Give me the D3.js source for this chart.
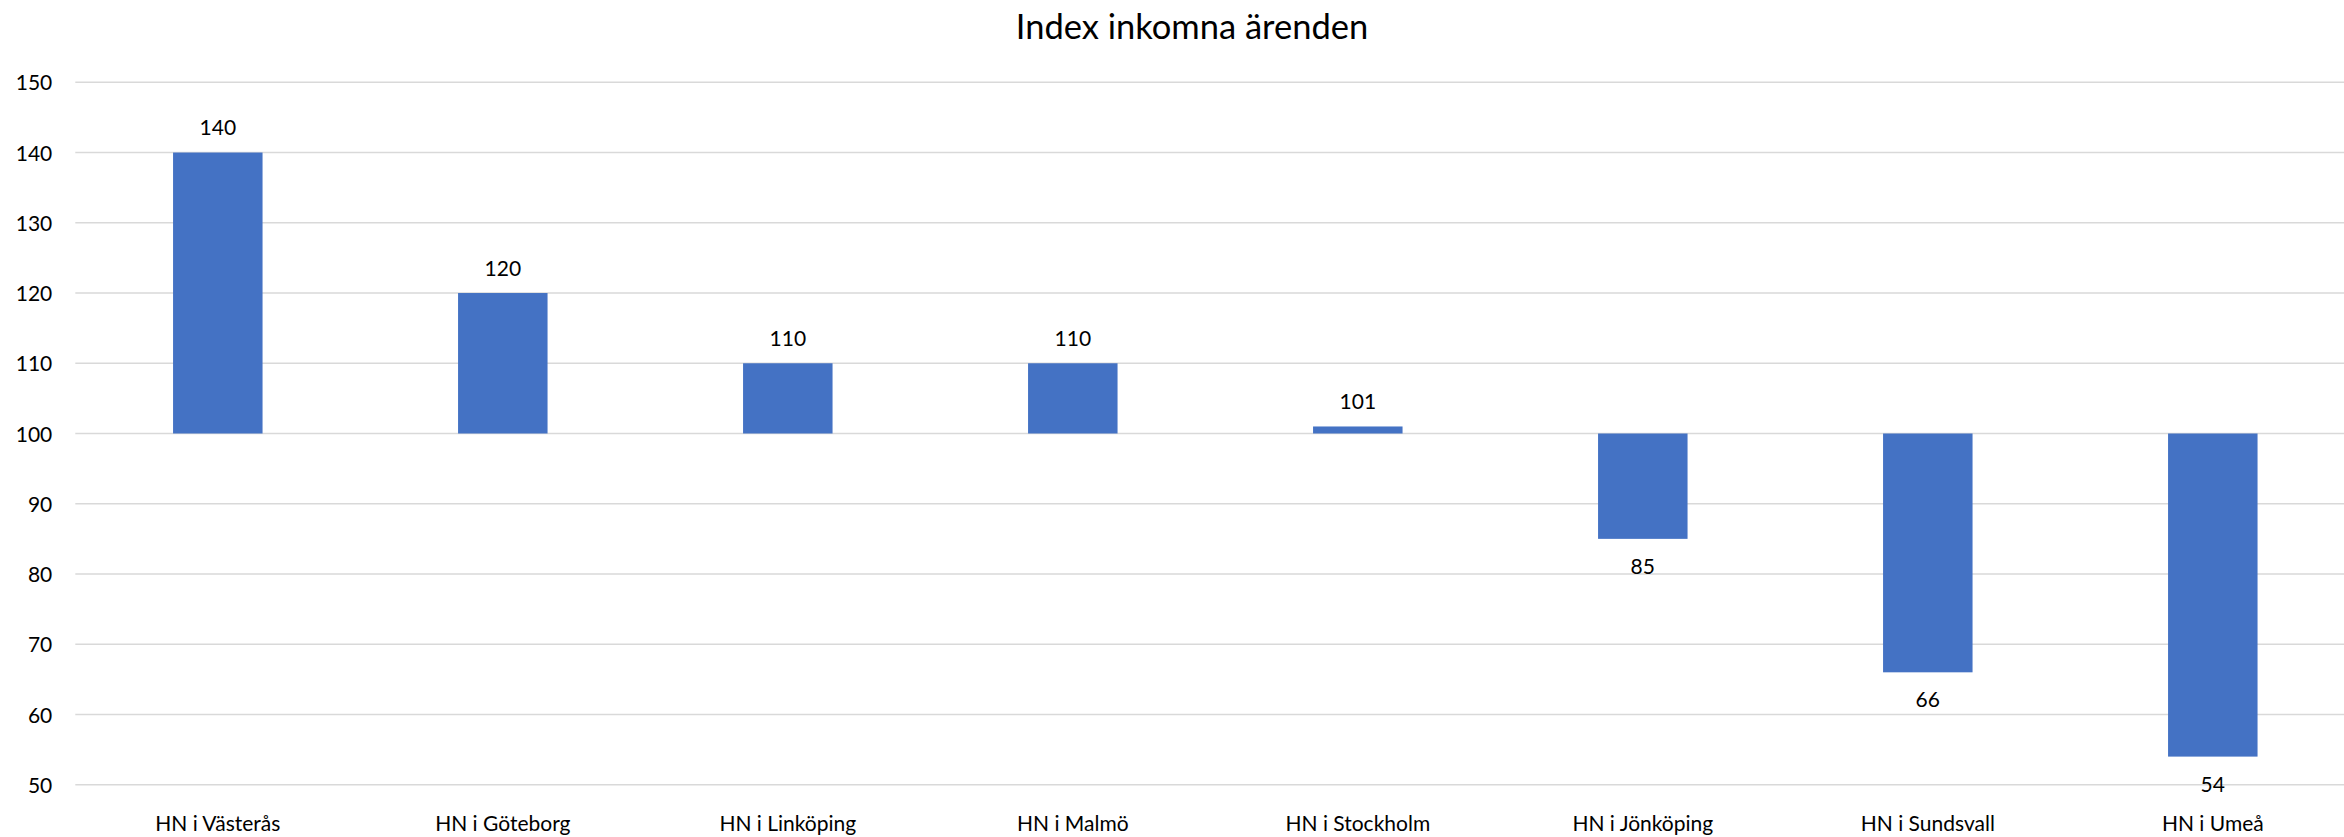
<!DOCTYPE html>
<html>
<head>
<meta charset="utf-8">
<script src="https://cdn.jsdelivr.net/npm/d3@7"></script>
<style>
  html, body { margin: 0; padding: 0; background: #fff; }
  svg { display: block; }
  text { font-family: Lato, "Noto Sans", sans-serif; fill: #000; }
</style>
</head>
<body>
<svg id="chart" width="2344" height="837"></svg>
<script>
const title = "Index inkomna ärenden";
const categories = ["HN i Västerås", "HN i Göteborg", "HN i Linköping", "HN i Malmö",
                    "HN i Stockholm", "HN i Jönköping", "HN i Sundsvall", "HN i Umeå"];
const values = [140, 120, 110, 110, 101, 85, 66, 54];
const baseline = 100;
const yTicks = [50, 60, 70, 80, 90, 100, 110, 120, 130, 140, 150];

(function () {
const svg = d3.select("#chart");
const W = 2344;
const plotLeft = 75.3, plotTop = 82.3, plotBottom = 784.7;

const x = d3.scaleBand().domain(categories)
  .range([plotLeft, plotLeft + 8 * 285])
  .paddingInner(0.686).paddingOuter(0.343);
const y = d3.scaleLinear().domain([50, 150]).range([plotBottom, plotTop]);

// gridlines
svg.append("g").selectAll("line").data(yTicks).join("line")
  .attr("x1", plotLeft).attr("x2", W)
  .attr("y1", d => y(d)).attr("y2", d => y(d))
  .attr("stroke", "#d9d9d9").attr("stroke-width", 1.6);

// y axis labels
const yAxis = d3.axisLeft(y).tickValues(yTicks).tickSize(0).tickPadding(0);
const gy = svg.append("g").attr("transform", `translate(${plotLeft - 23},0)`).call(yAxis);
gy.select(".domain").remove();
gy.selectAll("text").attr("font-size", 21).attr("font-family", "Lato, 'Noto Sans', sans-serif")
  .attr("fill", "#000").attr("dy", "0.36em");

// bars
svg.append("g").selectAll("rect").data(values).join("rect")
  .attr("x", (d, i) => x(categories[i]))
  .attr("width", x.bandwidth())
  .attr("y", d => y(Math.max(d, baseline)))
  .attr("height", d => Math.abs(y(d) - y(baseline)))
  .attr("fill", "#4472C4");

// value labels
svg.append("g").selectAll("text").data(values).join("text")
  .attr("x", (d, i) => x(categories[i]) + x.bandwidth() / 2)
  .attr("y", d => d >= baseline ? y(d) - 17.5 : y(d) + 35)
  .attr("text-anchor", "middle")
  .attr("font-size", 21)
  .text(d => d);

// category labels
const xAxis = d3.axisBottom(x).tickSize(0).tickPadding(0);
const gx = svg.append("g").attr("transform", `translate(0,831)`).call(xAxis);
gx.select(".domain").remove();
gx.selectAll("text").attr("font-size", 21).attr("font-family", "Lato, 'Noto Sans', sans-serif")
  .attr("fill", "#000").attr("dy", 0);

// title
svg.append("text").attr("x", 1192).attr("y", 39)
  .attr("text-anchor", "middle").attr("font-size", 34.5).text(title);
})();
</script>
</body>
</html>
